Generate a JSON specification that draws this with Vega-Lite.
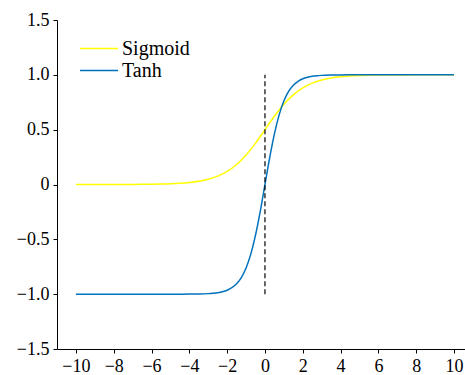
{
  "$schema": "https://vega.github.io/schema/vega-lite/v6.json",
  "width": 408,
  "height": 329,
  "autosize": {"type": "none"},
  "padding": {"left": 57, "top": 20, "right": 0, "bottom": 26},
  "background": "white",
  "config": {
    "view": {"stroke": null},
    "font": "Liberation Serif",
    "axis": {
      "labelFont": "Liberation Serif",
      "labelFontSize": 18,
      "labelColor": "black",
      "domainColor": "black",
      "domainWidth": 1,
      "tickColor": "black",
      "tickSize": 4,
      "grid": false,
      "title": null
    }
  },
  "datasets": {
    "curves": [
      {"x": -10, "y": 0.0000454, "f": "Sigmoid"},
      {"x": -9.5, "y": 0.0000749, "f": "Sigmoid"},
      {"x": -9, "y": 0.000123, "f": "Sigmoid"},
      {"x": -8.5, "y": 0.000203, "f": "Sigmoid"},
      {"x": -8, "y": 0.000335, "f": "Sigmoid"},
      {"x": -7.5, "y": 0.000553, "f": "Sigmoid"},
      {"x": -7, "y": 0.000911, "f": "Sigmoid"},
      {"x": -6.5, "y": 0.001501, "f": "Sigmoid"},
      {"x": -6, "y": 0.002473, "f": "Sigmoid"},
      {"x": -5.5, "y": 0.00407, "f": "Sigmoid"},
      {"x": -5, "y": 0.006693, "f": "Sigmoid"},
      {"x": -4.5, "y": 0.010987, "f": "Sigmoid"},
      {"x": -4, "y": 0.017986, "f": "Sigmoid"},
      {"x": -3.5, "y": 0.029312, "f": "Sigmoid"},
      {"x": -3, "y": 0.047426, "f": "Sigmoid"},
      {"x": -2.5, "y": 0.075858, "f": "Sigmoid"},
      {"x": -2, "y": 0.119203, "f": "Sigmoid"},
      {"x": -1.5, "y": 0.182426, "f": "Sigmoid"},
      {"x": -1, "y": 0.268941, "f": "Sigmoid"},
      {"x": -0.5, "y": 0.377541, "f": "Sigmoid"},
      {"x": 0, "y": 0.5, "f": "Sigmoid"},
      {"x": 0.5, "y": 0.622459, "f": "Sigmoid"},
      {"x": 1, "y": 0.731059, "f": "Sigmoid"},
      {"x": 1.5, "y": 0.817574, "f": "Sigmoid"},
      {"x": 2, "y": 0.880797, "f": "Sigmoid"},
      {"x": 2.5, "y": 0.924142, "f": "Sigmoid"},
      {"x": 3, "y": 0.952574, "f": "Sigmoid"},
      {"x": 3.5, "y": 0.970688, "f": "Sigmoid"},
      {"x": 4, "y": 0.982014, "f": "Sigmoid"},
      {"x": 4.5, "y": 0.989013, "f": "Sigmoid"},
      {"x": 5, "y": 0.993307, "f": "Sigmoid"},
      {"x": 5.5, "y": 0.99593, "f": "Sigmoid"},
      {"x": 6, "y": 0.997527, "f": "Sigmoid"},
      {"x": 6.5, "y": 0.998499, "f": "Sigmoid"},
      {"x": 7, "y": 0.999089, "f": "Sigmoid"},
      {"x": 7.5, "y": 0.999447, "f": "Sigmoid"},
      {"x": 8, "y": 0.999665, "f": "Sigmoid"},
      {"x": 8.5, "y": 0.999797, "f": "Sigmoid"},
      {"x": 9, "y": 0.999877, "f": "Sigmoid"},
      {"x": 9.5, "y": 0.999925, "f": "Sigmoid"},
      {"x": 10, "y": 0.999955, "f": "Sigmoid"},
      {"x": -10, "y": -1, "f": "Tanh"},
      {"x": -9, "y": -1, "f": "Tanh"},
      {"x": -8, "y": -1, "f": "Tanh"},
      {"x": -7, "y": -0.999998, "f": "Tanh"},
      {"x": -6, "y": -0.999988, "f": "Tanh"},
      {"x": -5.5, "y": -0.999967, "f": "Tanh"},
      {"x": -5, "y": -0.999909, "f": "Tanh"},
      {"x": -4.5, "y": -0.999753, "f": "Tanh"},
      {"x": -4, "y": -0.999329, "f": "Tanh"},
      {"x": -3.5, "y": -0.998178, "f": "Tanh"},
      {"x": -3, "y": -0.995055, "f": "Tanh"},
      {"x": -2.75, "y": -0.991815, "f": "Tanh"},
      {"x": -2.5, "y": -0.986614, "f": "Tanh"},
      {"x": -2.25, "y": -0.978026, "f": "Tanh"},
      {"x": -2, "y": -0.964028, "f": "Tanh"},
      {"x": -1.75, "y": -0.941376, "f": "Tanh"},
      {"x": -1.5, "y": -0.905148, "f": "Tanh"},
      {"x": -1.25, "y": -0.848284, "f": "Tanh"},
      {"x": -1, "y": -0.761594, "f": "Tanh"},
      {"x": -0.75, "y": -0.635149, "f": "Tanh"},
      {"x": -0.5, "y": -0.462117, "f": "Tanh"},
      {"x": -0.25, "y": -0.244919, "f": "Tanh"},
      {"x": 0, "y": 0, "f": "Tanh"},
      {"x": 0.25, "y": 0.244919, "f": "Tanh"},
      {"x": 0.5, "y": 0.462117, "f": "Tanh"},
      {"x": 0.75, "y": 0.635149, "f": "Tanh"},
      {"x": 1, "y": 0.761594, "f": "Tanh"},
      {"x": 1.25, "y": 0.848284, "f": "Tanh"},
      {"x": 1.5, "y": 0.905148, "f": "Tanh"},
      {"x": 1.75, "y": 0.941376, "f": "Tanh"},
      {"x": 2, "y": 0.964028, "f": "Tanh"},
      {"x": 2.25, "y": 0.978026, "f": "Tanh"},
      {"x": 2.5, "y": 0.986614, "f": "Tanh"},
      {"x": 2.75, "y": 0.991815, "f": "Tanh"},
      {"x": 3, "y": 0.995055, "f": "Tanh"},
      {"x": 3.5, "y": 0.998178, "f": "Tanh"},
      {"x": 4, "y": 0.999329, "f": "Tanh"},
      {"x": 4.5, "y": 0.999753, "f": "Tanh"},
      {"x": 5, "y": 0.999909, "f": "Tanh"},
      {"x": 5.5, "y": 0.999967, "f": "Tanh"},
      {"x": 6, "y": 0.999988, "f": "Tanh"},
      {"x": 7, "y": 0.999998, "f": "Tanh"},
      {"x": 8, "y": 1, "f": "Tanh"},
      {"x": 9, "y": 1, "f": "Tanh"},
      {"x": 10, "y": 1, "f": "Tanh"}
    ],
    "divider": [{"x": 0, "ymin": -1, "ymax": 1}]
  },
  "layer": [
    {
      "data": {"name": "curves"},
      "mark": {"type": "line", "strokeWidth": 1.5, "interpolate": "monotone", "clip": true},
      "encoding": {
        "x": {
          "field": "x", "type": "quantitative",
          "scale": {"domain": [-11, 10.58], "nice": false, "zero": false},
          "axis": {"values": [-10, -8, -6, -4, -2, 0, 2, 4, 6, 8, 10], "labelPadding": 4, "labelFlush": false}
        },
        "y": {
          "field": "y", "type": "quantitative",
          "scale": {"domain": [-1.5, 1.5], "nice": false, "zero": false},
          "axis": {
            "values": [-1.5, -1, -0.5, 0, 0.5, 1, 1.5],
            "labelExpr": "datum.value == 0 ? '0' : format(datum.value, '.1f')",
            "labelPadding": 4
          }
        },
        "color": {
          "field": "f", "type": "nominal",
          "scale": {"domain": ["Sigmoid", "Tanh"], "range": ["#FFFF00", "#0072BD"]},
          "legend": {
            "title": null,
            "orient": "none",
            "legendX": 31.5,
            "legendY": 18,
            "symbolType": "M-2,0H2",
            "symbolSize": 361,
            "symbolStrokeWidth": 1.5,
            "labelFont": "Liberation Serif",
            "labelFontSize": 20,
            "labelColor": "black",
            "labelOffset": 12.5,
            "rowPadding": 1,
            "padding": 0
          }
        }
      }
    },
    {
      "data": {"name": "divider"},
      "mark": {"type": "rule", "color": "black", "strokeWidth": 1.2, "strokeDash": [5, 3]},
      "encoding": {
        "x": {"field": "x", "type": "quantitative"},
        "y": {"field": "ymin", "type": "quantitative"},
        "y2": {"field": "ymax"}
      }
    },
    {
      "mark": {"type": "rule", "color": "black", "strokeWidth": 1},
      "encoding": {"y": {"datum": 1.5}}
    }
  ]
}
